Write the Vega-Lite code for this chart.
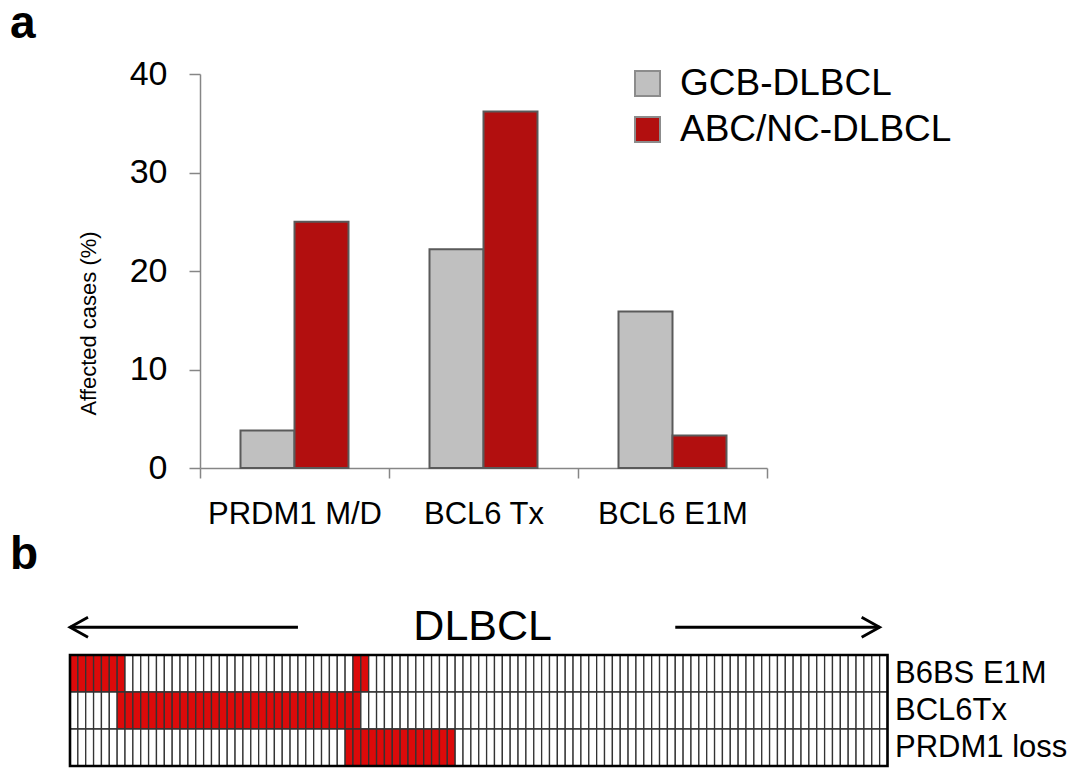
{
  "$schema": "https://vega.github.io/schema/vega-lite/v6.json",
  "padding": {"left": 10, "top": 1, "right": 0, "bottom": 0},
  "columns": 1,
  "spacing": 3,
  "config": {"font": "Liberation Sans", "view": {"stroke": null}},
  "datasets": {
    "bars": [
      {"category": "PRDM1 M/D", "group": "GCB-DLBCL", "pct": 3.8},
      {"category": "PRDM1 M/D", "group": "ABC/NC-DLBCL", "pct": 25.0},
      {"category": "BCL6 Tx", "group": "GCB-DLBCL", "pct": 22.2},
      {"category": "BCL6 Tx", "group": "ABC/NC-DLBCL", "pct": 36.2},
      {"category": "BCL6 E1M", "group": "GCB-DLBCL", "pct": 15.9},
      {"category": "BCL6 E1M", "group": "ABC/NC-DLBCL", "pct": 3.3}
    ],
    "arrows": [
      {"row": "DLBCL", "from": 0, "to": 29, "head": 0, "dir": "left"},
      {"row": "DLBCL", "from": 77, "to": 103, "head": 103, "dir": "right"}
    ],
    "label": [{"row": "DLBCL", "mid": 52, "label": "DLBCL"}],
    "frame": [{"first": 0, "last": 103, "top": "B6BS E1M", "bottom": "PRDM1 loss"}],
    "cases": [
      {"c":0,"B6BS E1M":1,"BCL6Tx":0,"PRDM1 loss":0},
      {"c":1,"B6BS E1M":1,"BCL6Tx":0,"PRDM1 loss":0},
      {"c":2,"B6BS E1M":1,"BCL6Tx":0,"PRDM1 loss":0},
      {"c":3,"B6BS E1M":1,"BCL6Tx":0,"PRDM1 loss":0},
      {"c":4,"B6BS E1M":1,"BCL6Tx":0,"PRDM1 loss":0},
      {"c":5,"B6BS E1M":1,"BCL6Tx":0,"PRDM1 loss":0},
      {"c":6,"B6BS E1M":1,"BCL6Tx":1,"PRDM1 loss":0},
      {"c":7,"B6BS E1M":0,"BCL6Tx":1,"PRDM1 loss":0},
      {"c":8,"B6BS E1M":0,"BCL6Tx":1,"PRDM1 loss":0},
      {"c":9,"B6BS E1M":0,"BCL6Tx":1,"PRDM1 loss":0},
      {"c":10,"B6BS E1M":0,"BCL6Tx":1,"PRDM1 loss":0},
      {"c":11,"B6BS E1M":0,"BCL6Tx":1,"PRDM1 loss":0},
      {"c":12,"B6BS E1M":0,"BCL6Tx":1,"PRDM1 loss":0},
      {"c":13,"B6BS E1M":0,"BCL6Tx":1,"PRDM1 loss":0},
      {"c":14,"B6BS E1M":0,"BCL6Tx":1,"PRDM1 loss":0},
      {"c":15,"B6BS E1M":0,"BCL6Tx":1,"PRDM1 loss":0},
      {"c":16,"B6BS E1M":0,"BCL6Tx":1,"PRDM1 loss":0},
      {"c":17,"B6BS E1M":0,"BCL6Tx":1,"PRDM1 loss":0},
      {"c":18,"B6BS E1M":0,"BCL6Tx":1,"PRDM1 loss":0},
      {"c":19,"B6BS E1M":0,"BCL6Tx":1,"PRDM1 loss":0},
      {"c":20,"B6BS E1M":0,"BCL6Tx":1,"PRDM1 loss":0},
      {"c":21,"B6BS E1M":0,"BCL6Tx":1,"PRDM1 loss":0},
      {"c":22,"B6BS E1M":0,"BCL6Tx":1,"PRDM1 loss":0},
      {"c":23,"B6BS E1M":0,"BCL6Tx":1,"PRDM1 loss":0},
      {"c":24,"B6BS E1M":0,"BCL6Tx":1,"PRDM1 loss":0},
      {"c":25,"B6BS E1M":0,"BCL6Tx":1,"PRDM1 loss":0},
      {"c":26,"B6BS E1M":0,"BCL6Tx":1,"PRDM1 loss":0},
      {"c":27,"B6BS E1M":0,"BCL6Tx":1,"PRDM1 loss":0},
      {"c":28,"B6BS E1M":0,"BCL6Tx":1,"PRDM1 loss":0},
      {"c":29,"B6BS E1M":0,"BCL6Tx":1,"PRDM1 loss":0},
      {"c":30,"B6BS E1M":0,"BCL6Tx":1,"PRDM1 loss":0},
      {"c":31,"B6BS E1M":0,"BCL6Tx":1,"PRDM1 loss":0},
      {"c":32,"B6BS E1M":0,"BCL6Tx":1,"PRDM1 loss":0},
      {"c":33,"B6BS E1M":0,"BCL6Tx":1,"PRDM1 loss":0},
      {"c":34,"B6BS E1M":0,"BCL6Tx":1,"PRDM1 loss":0},
      {"c":35,"B6BS E1M":0,"BCL6Tx":1,"PRDM1 loss":1},
      {"c":36,"B6BS E1M":1,"BCL6Tx":1,"PRDM1 loss":1},
      {"c":37,"B6BS E1M":1,"BCL6Tx":0,"PRDM1 loss":1},
      {"c":38,"B6BS E1M":0,"BCL6Tx":0,"PRDM1 loss":1},
      {"c":39,"B6BS E1M":0,"BCL6Tx":0,"PRDM1 loss":1},
      {"c":40,"B6BS E1M":0,"BCL6Tx":0,"PRDM1 loss":1},
      {"c":41,"B6BS E1M":0,"BCL6Tx":0,"PRDM1 loss":1},
      {"c":42,"B6BS E1M":0,"BCL6Tx":0,"PRDM1 loss":1},
      {"c":43,"B6BS E1M":0,"BCL6Tx":0,"PRDM1 loss":1},
      {"c":44,"B6BS E1M":0,"BCL6Tx":0,"PRDM1 loss":1},
      {"c":45,"B6BS E1M":0,"BCL6Tx":0,"PRDM1 loss":1},
      {"c":46,"B6BS E1M":0,"BCL6Tx":0,"PRDM1 loss":1},
      {"c":47,"B6BS E1M":0,"BCL6Tx":0,"PRDM1 loss":1},
      {"c":48,"B6BS E1M":0,"BCL6Tx":0,"PRDM1 loss":1},
      {"c":49,"B6BS E1M":0,"BCL6Tx":0,"PRDM1 loss":0},
      {"c":50,"B6BS E1M":0,"BCL6Tx":0,"PRDM1 loss":0},
      {"c":51,"B6BS E1M":0,"BCL6Tx":0,"PRDM1 loss":0},
      {"c":52,"B6BS E1M":0,"BCL6Tx":0,"PRDM1 loss":0},
      {"c":53,"B6BS E1M":0,"BCL6Tx":0,"PRDM1 loss":0},
      {"c":54,"B6BS E1M":0,"BCL6Tx":0,"PRDM1 loss":0},
      {"c":55,"B6BS E1M":0,"BCL6Tx":0,"PRDM1 loss":0},
      {"c":56,"B6BS E1M":0,"BCL6Tx":0,"PRDM1 loss":0},
      {"c":57,"B6BS E1M":0,"BCL6Tx":0,"PRDM1 loss":0},
      {"c":58,"B6BS E1M":0,"BCL6Tx":0,"PRDM1 loss":0},
      {"c":59,"B6BS E1M":0,"BCL6Tx":0,"PRDM1 loss":0},
      {"c":60,"B6BS E1M":0,"BCL6Tx":0,"PRDM1 loss":0},
      {"c":61,"B6BS E1M":0,"BCL6Tx":0,"PRDM1 loss":0},
      {"c":62,"B6BS E1M":0,"BCL6Tx":0,"PRDM1 loss":0},
      {"c":63,"B6BS E1M":0,"BCL6Tx":0,"PRDM1 loss":0},
      {"c":64,"B6BS E1M":0,"BCL6Tx":0,"PRDM1 loss":0},
      {"c":65,"B6BS E1M":0,"BCL6Tx":0,"PRDM1 loss":0},
      {"c":66,"B6BS E1M":0,"BCL6Tx":0,"PRDM1 loss":0},
      {"c":67,"B6BS E1M":0,"BCL6Tx":0,"PRDM1 loss":0},
      {"c":68,"B6BS E1M":0,"BCL6Tx":0,"PRDM1 loss":0},
      {"c":69,"B6BS E1M":0,"BCL6Tx":0,"PRDM1 loss":0},
      {"c":70,"B6BS E1M":0,"BCL6Tx":0,"PRDM1 loss":0},
      {"c":71,"B6BS E1M":0,"BCL6Tx":0,"PRDM1 loss":0},
      {"c":72,"B6BS E1M":0,"BCL6Tx":0,"PRDM1 loss":0},
      {"c":73,"B6BS E1M":0,"BCL6Tx":0,"PRDM1 loss":0},
      {"c":74,"B6BS E1M":0,"BCL6Tx":0,"PRDM1 loss":0},
      {"c":75,"B6BS E1M":0,"BCL6Tx":0,"PRDM1 loss":0},
      {"c":76,"B6BS E1M":0,"BCL6Tx":0,"PRDM1 loss":0},
      {"c":77,"B6BS E1M":0,"BCL6Tx":0,"PRDM1 loss":0},
      {"c":78,"B6BS E1M":0,"BCL6Tx":0,"PRDM1 loss":0},
      {"c":79,"B6BS E1M":0,"BCL6Tx":0,"PRDM1 loss":0},
      {"c":80,"B6BS E1M":0,"BCL6Tx":0,"PRDM1 loss":0},
      {"c":81,"B6BS E1M":0,"BCL6Tx":0,"PRDM1 loss":0},
      {"c":82,"B6BS E1M":0,"BCL6Tx":0,"PRDM1 loss":0},
      {"c":83,"B6BS E1M":0,"BCL6Tx":0,"PRDM1 loss":0},
      {"c":84,"B6BS E1M":0,"BCL6Tx":0,"PRDM1 loss":0},
      {"c":85,"B6BS E1M":0,"BCL6Tx":0,"PRDM1 loss":0},
      {"c":86,"B6BS E1M":0,"BCL6Tx":0,"PRDM1 loss":0},
      {"c":87,"B6BS E1M":0,"BCL6Tx":0,"PRDM1 loss":0},
      {"c":88,"B6BS E1M":0,"BCL6Tx":0,"PRDM1 loss":0},
      {"c":89,"B6BS E1M":0,"BCL6Tx":0,"PRDM1 loss":0},
      {"c":90,"B6BS E1M":0,"BCL6Tx":0,"PRDM1 loss":0},
      {"c":91,"B6BS E1M":0,"BCL6Tx":0,"PRDM1 loss":0},
      {"c":92,"B6BS E1M":0,"BCL6Tx":0,"PRDM1 loss":0},
      {"c":93,"B6BS E1M":0,"BCL6Tx":0,"PRDM1 loss":0},
      {"c":94,"B6BS E1M":0,"BCL6Tx":0,"PRDM1 loss":0},
      {"c":95,"B6BS E1M":0,"BCL6Tx":0,"PRDM1 loss":0},
      {"c":96,"B6BS E1M":0,"BCL6Tx":0,"PRDM1 loss":0},
      {"c":97,"B6BS E1M":0,"BCL6Tx":0,"PRDM1 loss":0},
      {"c":98,"B6BS E1M":0,"BCL6Tx":0,"PRDM1 loss":0},
      {"c":99,"B6BS E1M":0,"BCL6Tx":0,"PRDM1 loss":0},
      {"c":100,"B6BS E1M":0,"BCL6Tx":0,"PRDM1 loss":0},
      {"c":101,"B6BS E1M":0,"BCL6Tx":0,"PRDM1 loss":0},
      {"c":102,"B6BS E1M":0,"BCL6Tx":0,"PRDM1 loss":0},
      {"c":103,"B6BS E1M":0,"BCL6Tx":0,"PRDM1 loss":0}
    ]
  },
  "concat": [
    {
      "width": 567,
      "height": 394,
      "title": {"text": "a", "anchor": "start", "frame": "group", "dx": -190, "fontSize": 46, "fontWeight": "bold", "color": "black", "baseline": "alphabetic", "offset": -27},
      "data": {"name": "bars"},
      "mark": {"type": "bar", "stroke": "#5a5a5a", "strokeWidth": 2},
      "encoding": {
        "x": {"field": "category", "type": "nominal", "sort": ["PRDM1 M/D", "BCL6 Tx", "BCL6 E1M"],
          "scale": {"paddingInner": 0, "paddingOuter": 0},
          "axis": {"title": null, "labelAngle": 0, "labelFontSize": 31, "labelColor": "black", "labelPadding": 21, "tickBand": "extent", "tickSize": 10, "tickColor": "#868686", "tickWidth": 1.5, "domainColor": "#868686", "domainWidth": 1.5}},
        "xOffset": {"field": "group", "type": "nominal", "sort": ["GCB-DLBCL", "ABC/NC-DLBCL"], "scale": {"paddingInner": 0, "paddingOuter": 0.75}},
        "y": {"field": "pct", "type": "quantitative", "scale": {"domain": [0, 40]},
          "axis": {"title": "Affected cases (%)", "titleFontSize": 22, "titleFontWeight": "normal", "titleColor": "black", "titleY": 249, "titleX": -112, "titleBaseline": "middle", "titleAlign": "center", "titleAngle": -90, "values": [0, 10, 20, 30, 40], "grid": false, "labelFontSize": 34, "labelColor": "black", "labelPadding": 22, "tickSize": 11, "tickColor": "#868686", "tickWidth": 1.5, "domainColor": "#868686", "domainWidth": 1.5}},
        "color": {"field": "group", "type": "nominal",
          "scale": {"domain": ["GCB-DLBCL", "ABC/NC-DLBCL"], "range": ["#c0c0c0", "#b20f0f"]},
          "legend": {"title": null, "orient": "none", "legendX": 429, "legendY": -9, "padding": 0, "symbolType": "square", "symbolSize": 625, "symbolStrokeColor": "#8c8c8c", "symbolStrokeWidth": 2, "labelFontSize": 37, "labelLimit": 0, "labelColor": "black", "labelOffset": 14, "rowPadding": 8}}
      }
    },
    {
      "width": 687.5,
      "height": 148,
      "title": {"text": "b", "anchor": "start", "frame": "group", "dx": -190, "fontSize": 46, "fontWeight": "bold", "color": "black", "baseline": "alphabetic", "offset": -9},
      "layer": [
        {
          "data": {"name": "cases"},
          "transform": [{"fold": ["B6BS E1M", "BCL6Tx", "PRDM1 loss"], "as": ["row", "v"]}],
          "mark": {"type": "rect", "stroke": "#333333", "strokeWidth": 1.3},
          "encoding": {
            "x": {"field": "c", "type": "ordinal", "axis": null, "scale": {"type": "band", "range": [-130, 687.5], "paddingInner": 0, "paddingOuter": 0}},
            "y": {"field": "row", "type": "nominal", "scale": {"type": "band", "domain": ["DLBCL", "B6BS E1M", "BCL6Tx", "PRDM1 loss"], "paddingInner": 0, "paddingOuter": 0},
              "axis": {"orient": "right", "title": null, "values": ["B6BS E1M", "BCL6Tx", "PRDM1 loss"], "labelFontSize": 31, "labelLimit": 0, "labelColor": "black", "labelPadding": 7, "ticks": false, "domain": false}},
            "fill": {"field": "v", "type": "nominal", "scale": {"domain": [0, 1], "range": ["#ffffff", "#dc0a0a"]}, "legend": null}
          }
        },
        {
          "data": {"name": "frame"},
          "mark": {"type": "rect", "fill": null, "fillOpacity": 0, "stroke": "#000000", "strokeWidth": 2.6},
          "encoding": {
            "x": {"field": "first", "type": "ordinal", "bandPosition": 0, "scale": {"type": "band"}},
            "x2": {"field": "last", "bandPosition": 1},
            "y": {"field": "top", "type": "nominal", "bandPosition": 0, "scale": {"type": "band"}},
            "y2": {"field": "bottom", "bandPosition": 1}
          }
        },
        {
          "data": {"name": "arrows"},
          "mark": {"type": "rule", "strokeWidth": 2.8, "color": "black"},
          "encoding": {
            "x": {"field": "from", "type": "ordinal", "bandPosition": 0, "scale": {"type": "band"}},
            "x2": {"field": "to", "bandPosition": 0},
            "y": {"field": "row", "type": "nominal", "bandPosition": 0.25, "scale": {"type": "band"}}
          }
        },
        {
          "data": {"name": "arrows"},
          "mark": {"type": "point", "filled": false, "strokeWidth": 2.8, "color": "black", "size": 400, "opacity": 1},
          "encoding": {
            "x": {"field": "head", "type": "ordinal", "bandPosition": 0, "scale": {"type": "band"}},
            "y": {"field": "row", "type": "nominal", "bandPosition": 0.25, "scale": {"type": "band"}},
            "shape": {"field": "dir", "type": "nominal", "scale": {"domain": ["left", "right"], "range": ["M1.8,-1L0,0L1.8,1", "M-1.8,-1L0,0L-1.8,1"]}, "legend": null}
          }
        },
        {
          "data": {"name": "label"},
          "mark": {"type": "text", "fontSize": 43, "color": "black", "baseline": "middle"},
          "encoding": {
            "x": {"field": "mid", "type": "ordinal", "scale": {"type": "band"}},
            "y": {"field": "row", "type": "nominal", "bandPosition": 0.25, "scale": {"type": "band"}},
            "text": {"field": "label"}
          }
        }
      ]
    }
  ]
}
